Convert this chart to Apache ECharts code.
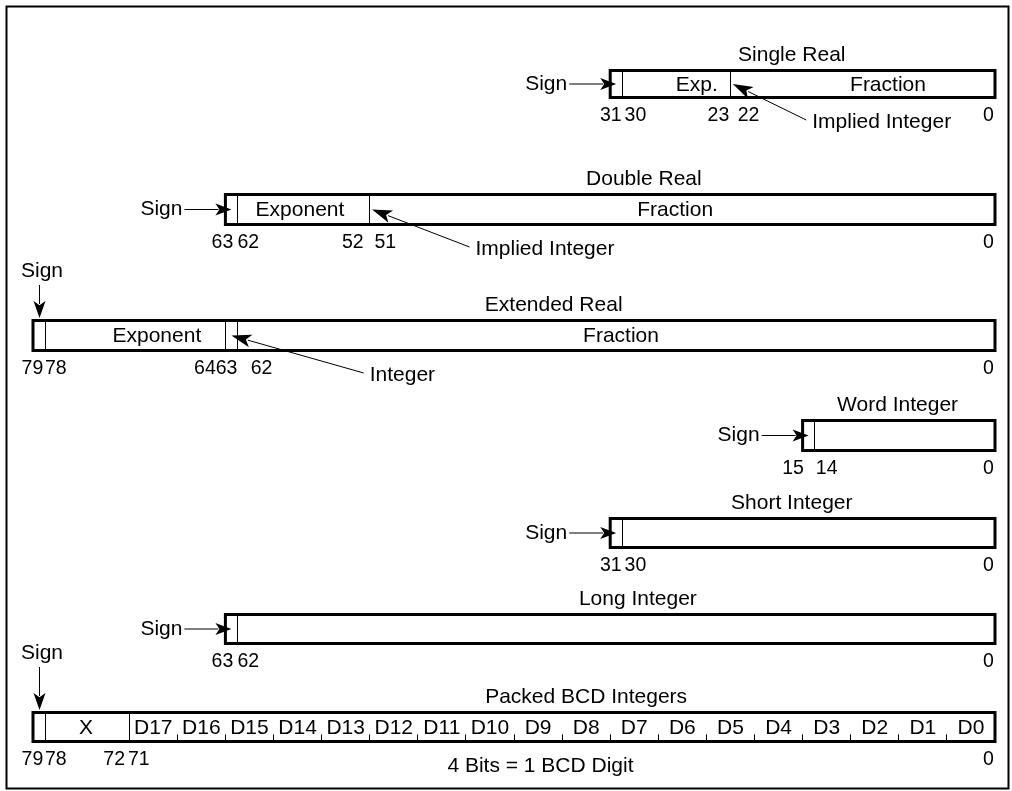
<!DOCTYPE html>
<html>
<head>
<meta charset="utf-8">
<title>Data Formats</title>
<script src="https://cdn.jsdelivr.net/npm/echarts/dist/echarts.min.js"></script>
<style>
  html, body { margin: 0; padding: 0; background: #fff; }
  #main { width: 1012px; height: 791px; }
</style>
</head>
<body>
<div id="main"></div>
<script>
// 各数据格式名称与总位数
const formats = ['Single Real', 'Double Real', 'Extended Real', 'Word Integer', 'Short Integer', 'Long Integer', 'Packed BCD Integers'];
const totalBits = [32, 64, 80, 16, 32, 64, 80];
// 字段分隔线所在的位
const fieldEdges = [[31, 22], [63, 52], [79, 64, 63], [15], [31], [63], [79, 72]];
// 字段名及其中心位置
const fieldNames = [['Exp.', 'Fraction'], ['Exponent', 'Fraction'], ['Exponent', 'Fraction'], [], [], [], ['X']];
const fieldCenters = [[24.8, 8.9], [57.8, 26.6], [69.7, 31.1], [], [], [], [75.6]];
// 框下方的位编号
const bitLabels = [
  ['31', '30', '23', '22', '0'],
  ['63', '62', '52', '51', '0'],
  ['79', '78', '64', '63', '62', '0'],
  ['15', '14', '0'],
  ['31', '30', '0'],
  ['63', '62', '0'],
  ['79', '78', '72', '71', '0']
];
const bitLabelPos = [
  [31.95, 29.9, 23.0, 20.5, 0.55],
  [64.25, 62.1, 53.4, 50.7, 0.55],
  [80.05, 78.1, 65.7, 63.9, 61.0, 0.55],
  [16.8, 14.0, 0.55],
  [31.95, 29.9, 0.55],
  [64.25, 62.1, 0.55],
  [80.05, 78.1, 73.25, 71.2, 0.55]
];
// 标题中心所在的位
const titlePos = [16.9, 29.2, 36.7, 8.1, 16.9, 29.7, 34.0];
// 符号位箭头: h 为水平, v 为垂直
const signKind = ['h', 'h', 'v', 'h', 'h', 'h', 'v'];
// BCD 数字
const bcdDigits = ['D17', 'D16', 'D15', 'D14', 'D13', 'D12', 'D11', 'D10', 'D9', 'D8', 'D7', 'D6', 'D5', 'D4', 'D3', 'D2', 'D1', 'D0'];
const bcdDigitPos = [70, 66, 62, 58, 54, 50, 46, 42, 38, 34, 30, 26, 22, 18, 14, 10, 6, 2];
const bcdTicks = [68, 64, 60, 56, 52, 48, 44, 40, 36, 32, 28, 24, 20, 16, 12, 8, 4];
// 指向整数位的说明箭头
const pointerRows = [0, 1, 2];
const pointerText = ['Implied Integer', 'Implied Integer', 'Integer'];
const pointerTip = [21.8, 51.8, 63.5];
const pointerTextAt = [15.2, 43.2, 52.0];
// BCD 注释
const noteText = '4 Bits = 1 BCD Digit';
const noteAt = 37.8;

// 布局（像素）
const rowTop = [69, 193, 319, 419, 517, 613, 711];
const rowH = [30, 33, 33, 33, 32, 32, 32];
const signDrop = [0, 0, 34, 0, 0, 0, 44];
const FONT = '21px "Liberation Sans", Arial, sans-serif';
const NUM_FONT = '19.5px "Liberation Sans", Arial, sans-serif';
const BW = 3;

function txt(text, x, y, align, font) {
  return {
    type: 'text', x: x, y: y,
    style: { text: text, font: font || FONT, fill: '#000', align: align || 'center', verticalAlign: 'middle' }
  };
}
function ln(x1, y1, x2, y2, w) {
  return { type: 'line', shape: { x1: x1, y1: y1, x2: x2, y2: y2 }, style: { stroke: '#000', lineWidth: w || 1 } };
}
function arrow(x1, y1, x2, y2, len, half) {
  const a = Math.atan2(y2 - y1, x2 - x1);
  const c = Math.cos(a), s = Math.sin(a);
  const bx = x2 - len * c, by = y2 - len * s;
  const nx = -s * half, ny = c * half;
  return [
    ln(x1, y1, bx + 3 * c, by + 3 * s, 1),
    {
      type: 'polygon',
      shape: { points: [[x2, y2], [bx + nx, by + ny], [bx + len * 0.25 * c, by + len * 0.25 * s], [bx - nx, by - ny]] },
      style: { fill: '#000' }
    }
  ];
}
const crisp = v => Math.round(v - 0.5) + 0.5;

function renderRow(r, api) {
  const X = b => api.coord([b, 0])[0];
  const top = api.coord([0, 1])[1];
  const bottom = api.coord([0, 0])[1];
  const oTop = top - BW / 2, oBot = bottom + BW / 2;
  const midY = (top + bottom) / 2;
  const left = X(totalBits[r]), right = X(0);
  const kids = [];

  kids.push({ type: 'rect', shape: { x: left, y: top, width: right - left, height: bottom - top },
    style: { fill: '#fff', stroke: '#000', lineWidth: BW } });
  fieldEdges[r].forEach(b => kids.push(ln(crisp(X(b)), top, crisp(X(b)), bottom, 1)));
  fieldNames[r].forEach((t, i) => kids.push(txt(t, X(fieldCenters[r][i]), midY + 1)));

  if (r === 6) {
    bcdTicks.forEach(b => kids.push(ln(crisp(X(b)), bottom - 7, crisp(X(b)), bottom, 1)));
    bcdDigits.forEach((t, i) => kids.push(txt(t, X(bcdDigitPos[i]), midY + 1)));
    kids.push(txt(noteText, X(noteAt), oBot + 23));
  }

  kids.push(txt(formats[r], X(titlePos[r]), oTop - 14));
  bitLabels[r].forEach((t, i) => kids.push(txt(t, X(bitLabelPos[r][i]), oBot + 17, 'center', NUM_FONT)));

  const signX = X(totalBits[r] - 0.5);
  if (signKind[r] === 'h') {
    const start = signX - 47;
    kids.push.apply(kids, arrow(start, midY, signX, midY, 16, 6));
    kids.push(txt('Sign', start - 2, midY, 'right'));
  } else {
    const y0 = oTop - signDrop[r];
    kids.push.apply(kids, arrow(crisp(signX), y0, crisp(signX), oTop - 1, 17, 6));
    kids.push(txt('Sign', signX + 3, y0 - 14));
  }

  const p = pointerRows.indexOf(r);
  if (p >= 0) {
    const tx = X(pointerTextAt[p]);
    const ty = oBot + 23;
    kids.push(txt(pointerText[p], tx, ty, 'left'));
    kids.push.apply(kids, arrow(tx - 6, ty - 2, X(pointerTip[p]), midY, 20, 6.5));
  }
  return { type: 'group', children: kids };
}

const grids = [], xAxes = [], yAxes = [], series = [];
formats.forEach((name, r) => {
  grids.push({ left: 33, right: 17, top: rowTop[r] + BW / 2, height: rowH[r] - BW });
  xAxes.push({ gridIndex: r, type: 'value', min: 0, max: 80, inverse: true, show: false });
  yAxes.push({ gridIndex: r, type: 'value', min: 0, max: 1, show: false });
  series.push({
    name: name, type: 'custom', xAxisIndex: r, yAxisIndex: r,
    data: [[totalBits[r], 1]], silent: true,
    renderItem: (params, api) => renderRow(r, api)
  });
});

const option = {
  backgroundColor: '#fff',
  animation: false,
  graphic: [{
    type: 'rect', left: 4, top: 4, z: -10,
    shape: { width: 1002, height: 782 },
    style: { fill: 'none', stroke: '#000', lineWidth: 2 }
  }],
  grid: grids,
  xAxis: xAxes,
  yAxis: yAxes,
  series: series
};

const myChart = echarts.init(document.getElementById('main'));
myChart.setOption(option);
</script>
</body>
</html>
